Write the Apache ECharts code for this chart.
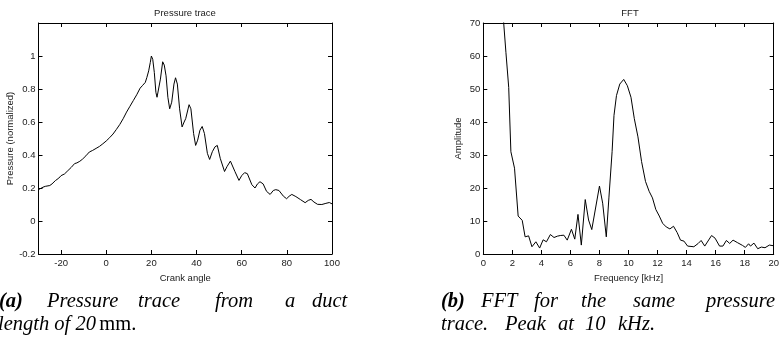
<!DOCTYPE html>
<html>
<head>
<meta charset="utf-8">
<script src="https://cdn.jsdelivr.net/npm/echarts@6/dist/echarts.min.js"></script>
<style>
html,body{margin:0;padding:0;background:#fff;}
#chart{width:782px;height:350px;}
</style>
</head>
<body>
<div id="chart"></div>
<script>
// ---- Data: pressure trace ----
const crankAngle = [-30,-28,-27,-25,-24,-22.5,-21,-20,-18.5,-17,-15.5,-14,-13,-11.7,-10.5,-9,-7.5,-6,-4.5,-3,-1.5,0,1.5,3,4.5,6,7.5,9,10.5,12,13.5,15,16,17.3,18,18.8,19.5,20,20.6,21.3,22,22.5,23.2,24,25,25.7,26.5,27.3,28.1,29,30,30.7,31.5,32.5,33.6,34.5,35.2,36.7,37.5,38.7,39.6,40.5,41.5,42.5,43.5,44.8,45.8,47,48.2,49.2,50.5,52.4,53.5,55,55.8,57,58.8,60,61.3,62.5,64.5,65.9,67,68.1,69.5,71,72.6,74,75.1,76.5,78.5,79.9,81,82.2,84,86,88.1,89.5,90.7,92,93.6,95.5,97.3,98.8,100];
const pressure = [0.19,0.205,0.21,0.215,0.225,0.245,0.26,0.275,0.285,0.305,0.325,0.348,0.352,0.362,0.375,0.395,0.418,0.428,0.44,0.452,0.468,0.485,0.505,0.527,0.555,0.585,0.62,0.66,0.695,0.73,0.765,0.805,0.82,0.84,0.87,0.91,0.96,1.0,0.98,0.9,0.78,0.75,0.755,0.86,0.965,0.945,0.88,0.75,0.68,0.72,0.83,0.868,0.83,0.68,0.57,0.6,0.62,0.705,0.68,0.53,0.458,0.49,0.55,0.573,0.53,0.41,0.373,0.42,0.45,0.458,0.38,0.30,0.33,0.363,0.367,0.3,0.246,0.275,0.293,0.287,0.22,0.2,0.225,0.238,0.225,0.18,0.161,0.185,0.19,0.185,0.15,0.135,0.15,0.161,0.148,0.13,0.111,0.125,0.131,0.115,0.101,0.1,0.107,0.112,0.104];
const pressureXTicks = [-20,0,20,40,60,80,100];
const pressureYTicks = [-0.2,0,0.2,0.4,0.6,0.8,1];

// ---- Data: FFT ----
const frequency = [1.37,1.56,1.75,1.83,1.9,2.15,2.4,2.68,2.88,3.12,3.35,3.62,3.88,4.12,4.35,4.62,4.87,5.1,5.3,5.55,5.78,6.07,6.3,6.52,6.75,7.02,7.25,7.47,8.0,8.22,8.47,8.65,8.87,9.0,9.17,9.4,9.67,9.92,10.17,10.4,10.65,10.9,11.17,11.42,11.65,11.88,12.12,12.35,12.6,12.85,13.1,13.35,13.58,13.82,14.07,14.5,14.8,15.0,15.25,15.72,15.96,16.27,16.5,16.74,16.97,17.2,17.52,17.85,18.05,18.27,18.4,18.64,18.9,19.15,19.4,19.7,20.0];
const amplitude = [72,61,50.5,40,31,26,11.5,10.2,5.2,5.5,2.2,3.7,1.8,4.3,3.7,5.9,5.0,5.4,5.6,5.7,4.2,7.5,4.5,12.0,2.7,16.5,10.3,7.4,20.6,15.4,5.2,17,31,42,48,51.5,52.9,51,47.5,41,35.5,28,22,19,17,13.5,11.5,9.3,8.2,7.6,8.4,6.5,4.2,3.9,2.4,2.2,3.2,4.1,2.4,5.6,4.8,2.4,2.4,4.1,3.2,4.2,3.4,2.6,2.0,3.1,2.4,3.3,1.6,2.1,1.9,2.7,2.5];
const fftXTicks = [0,2,4,6,8,10,12,14,16,18,20];
const fftYTicks = [0,10,20,30,40,50,60,70];

const pressurePoints = crankAngle.map((x, i) => [x, pressure[i]]);
const fftPoints = frequency.map((x, i) => [x, amplitude[i]]);

const axisFont = '"Liberation Sans Narrow", "Liberation Sans", Arial, sans-serif';
const textColor = '#1a1a1a';

function xAxisCfg(grid, min, max, ticks, pos, name) {
  const main = pos === 'bottom';
  return {
    type: 'value', gridIndex: grid, min: min, max: max, position: pos,
    name: main ? name : '', nameLocation: 'middle', nameGap: 14,
    nameTextStyle: {color: textColor, fontSize: 9.5, fontFamily: axisFont},
    axisLine: {show: true, onZero: false, lineStyle: {color: '#000', width: 1}},
    axisTick: {show: true, inside: true, length: 4, customValues: ticks, lineStyle: {color: '#000'}},
    axisLabel: {show: main, customValues: ticks, margin: 4, color: textColor, fontSize: 9.5, fontFamily: axisFont, showMinLabel: true, showMaxLabel: true},
    splitLine: {show: false}
  };
}
function yAxisCfg(grid, min, max, ticks, pos, name, gap) {
  const main = pos === 'left';
  return {
    type: 'value', gridIndex: grid, min: min, max: max, position: pos,
    name: main ? name : '', nameLocation: 'middle', nameGap: gap, nameRotate: 90,
    nameTextStyle: {color: textColor, fontSize: 9.5, fontFamily: axisFont},
    axisLine: {show: true, onZero: false, lineStyle: {color: '#000', width: 1}},
    axisTick: {show: true, inside: true, length: 4, customValues: ticks, lineStyle: {color: '#000'}},
    axisLabel: {show: main, customValues: ticks, margin: 3, color: textColor, fontSize: 9.5, fontFamily: axisFont, showMinLabel: true, showMaxLabel: true},
    splitLine: {show: false}
  };
}

const serif = '"Liberation Serif", "DejaVu Serif", serif';
const capSize = 20.5;
function word(text, x, y, weight) {
  return {type: 'text', x: x, y: y, silent: true,
    style: {text: text, fill: '#000', font: 'italic ' + (weight || 'normal') + ' ' + capSize + 'px ' + serif, textVerticalAlign: 'middle', textAlign: 'left'}};
}

const option = {
  animation: false,
  backgroundColor: '#fff',
  grid: [
    {left: 38.5, right: 450, top: 23, bottom: 96},
    {left: 483.3, right: 4.3, top: 23, bottom: 96}
  ],
  xAxis: [
    xAxisCfg(0, -30, 100, pressureXTicks, 'bottom', 'Crank angle'),
    xAxisCfg(0, -30, 100, pressureXTicks, 'top', ''),
    xAxisCfg(1, 0, 20, fftXTicks, 'bottom', 'Frequency [kHz]'),
    xAxisCfg(1, 0, 20, fftXTicks, 'top', '')
  ],
  yAxis: [
    yAxisCfg(0, -0.2, 1.2, pressureYTicks, 'left', 'Pressure (normalized)', 23),
    yAxisCfg(0, -0.2, 1.2, pressureYTicks, 'right', '', 0),
    yAxisCfg(1, 0, 70, fftYTicks, 'left', 'Amplitude', 20),
    yAxisCfg(1, 0, 70, fftYTicks, 'right', '', 0)
  ],
  series: [
    {type: 'line', xAxisIndex: 0, yAxisIndex: 0, data: pressurePoints, showSymbol: false, clip: true,
     lineStyle: {color: '#000', width: 1}},
    {type: 'line', xAxisIndex: 2, yAxisIndex: 2, data: fftPoints, showSymbol: false, clip: true,
     lineStyle: {color: '#000', width: 1}}
  ],
  graphic: [
    {type: 'text', x: 185, y: 13, silent: true, style: {text: 'Pressure trace', fill: textColor, font: '9.5px ' + axisFont, textAlign: 'center', textVerticalAlign: 'middle'}},
    {type: 'text', x: 630, y: 13, silent: true, style: {text: 'FFT', fill: textColor, font: '9.5px ' + axisFont, textAlign: 'center', textVerticalAlign: 'middle'}},
    // caption (a)
    word('(a)', -1, 302, 'bold'),
    word('Pressure', 47, 302),
    word('trace', 138, 302),
    word('from', 215, 302),
    word('a', 285, 302),
    word('duct', 312, 302),
    {type: 'text', x: -2, y: 325, silent: true, style: {
      text: '{i|length of 20} {r|mm.}', textVerticalAlign: 'middle', fill: '#000',
      rich: {i: {font: 'italic ' + capSize + 'px ' + serif}, r: {font: 'normal ' + capSize + 'px ' + serif}}}},
    // caption (b)
    word('(b)', 441, 302, 'bold'),
    word('FFT', 481, 302),
    word('for', 534, 302),
    word('the', 581, 302),
    word('same', 633, 302),
    word('pressure', 706, 302),
    word('trace.', 441, 325),
    word('Peak', 505, 325),
    word('at', 558, 325),
    word('10', 585, 325),
    word('kHz.', 618, 325)
  ]
};

const chart = echarts.init(document.getElementById('chart'), null, {renderer: 'canvas'});
chart.setOption(option);
</script>
</body>
</html>
